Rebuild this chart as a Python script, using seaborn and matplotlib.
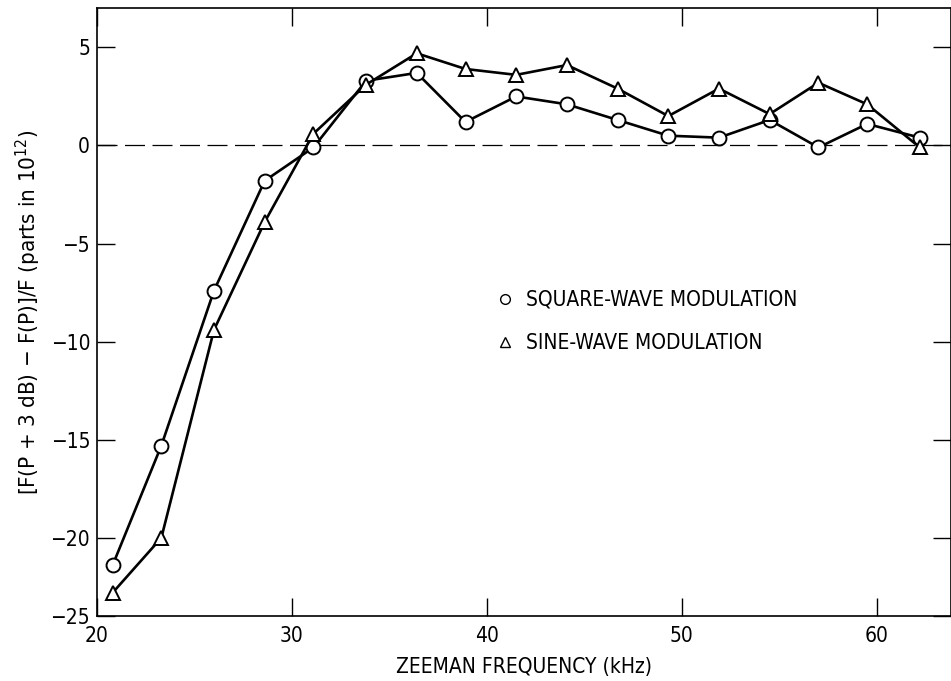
import seaborn as sns
import matplotlib.pyplot as plt
import pandas as pd
from matplotlib.lines import Line2D

# values
freq = [20.8, 23.3, 26.0, 28.6, 31.1, 33.8, 36.4, 38.9, 41.5, 44.1, 46.7, 49.3, 51.9, 54.5, 57.0, 59.5, 62.2]
square = [-21.4, -15.3, -7.4, -1.8, -0.1, 3.3, 3.7, 1.2, 2.5, 2.1, 1.3, 0.5, 0.4, 1.3, -0.1, 1.1, 0.4]
sine = [-22.8, -20.0, -9.4, -3.9, 0.6, 3.1, 4.7, 3.9, 3.6, 4.1, 2.9, 1.5, 2.9, 1.6, 3.2, 2.1, -0.1]
series_names = ['SQUARE-WAVE MODULATION', 'SINE-WAVE MODULATION']
ytick_vals = [5, 0, -5, -10, -15, -20, -24]
ytick_labels = ['5', '0', '\u22125', '\u221210', '\u221215', '\u221220', '\u221225']
xtick_vals = [20, 30, 40, 50, 60]

sns.set_theme(style='ticks')
plt.rcParams['font.family'] = ['DejaVu Sans']
plt.rcParams['font.stretch'] = 'condensed'
plt.rcParams['text.color'] = 'black'
plt.rcParams['axes.labelcolor'] = 'black'
plt.rcParams['xtick.color'] = 'black'
plt.rcParams['ytick.color'] = 'black'
plt.rcParams['mathtext.fontset'] = 'custom'
plt.rcParams['mathtext.rm'] = 'DejaVu Sans:stretch=condensed'

df = pd.DataFrame({
    'freq': freq * 2,
    'value': square + sine,
    'series': [series_names[0]] * len(freq) + [series_names[1]] * len(freq),
})

fig = plt.figure(figsize=(9.51, 6.81), dpi=100)
ax = fig.add_axes([0.102, 0.095, 0.898, 0.893])

ax.axhline(0, color='black', lw=0.9, ls=(0, (16, 6)), zorder=1)

sns.lineplot(data=df, x='freq', y='value', style='series', hue='series',
             palette=['black', 'black'], markers=['o', '^'], dashes=False,
             markersize=10, markerfacecolor='white', markeredgecolor='black',
             markeredgewidth=1.4, linewidth=1.9, legend=False, ax=ax, zorder=3)

ax.set_xlim(20, 63.8)
ax.set_ylim(-24, 7)
ax.set_xticks(xtick_vals)
ax.set_yticks(ytick_vals)
ax.set_yticklabels(ytick_labels)
ax.tick_params(direction='in', length=13, width=1, labelsize=15, top=True, right=True)
ax.tick_params(axis='x', pad=7)
ax.tick_params(axis='y', pad=5)
for s in ax.spines.values():
    s.set_linewidth(1.2)
    s.set_color('black')

ax.set_xlabel('ZEEMAN FREQUENCY (kHz)', fontsize=15, labelpad=8)
ax.set_ylabel(r'[F(P + 3 dB) $-$ F(P)]/F (parts in 10$^{12}$)', fontsize=16, labelpad=5)

handles = [
    Line2D([], [], ls='none', marker='o', markersize=7, markerfacecolor='white',
           markeredgecolor='black', markeredgewidth=1.0),
    Line2D([], [], ls='none', marker='^', markersize=7, markerfacecolor='white',
           markeredgecolor='black', markeredgewidth=1.0),
]
ax.legend(handles, series_names, loc='center left', bbox_to_anchor=(0.446, 0.485),
          frameon=False, fontsize=15, handlelength=0.8, handletextpad=0.6,
          labelspacing=1.1)

fig.savefig('out.png', dpi=100)
